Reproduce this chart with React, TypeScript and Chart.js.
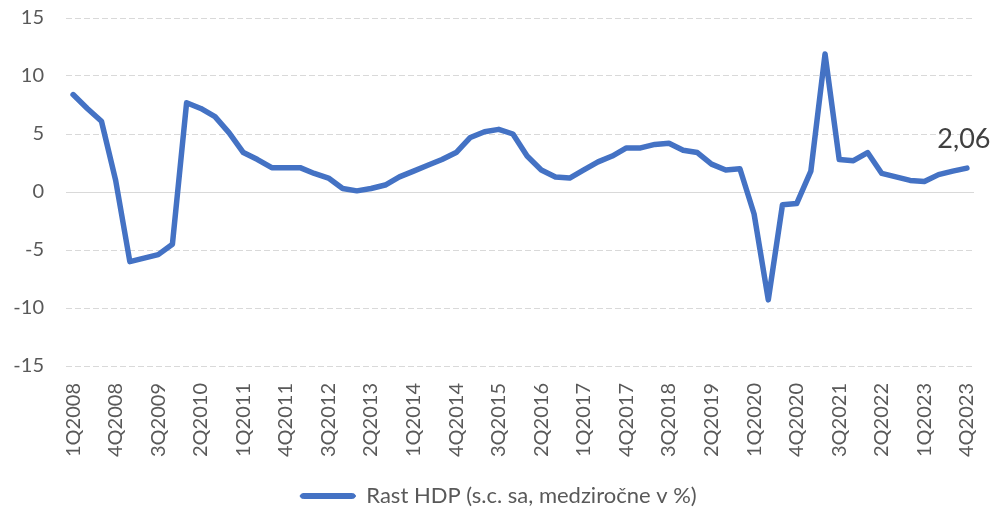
import React, { useEffect, useRef } from "react";
import { Chart, registerables } from "chart.js";

Chart.register(...registerables);

const categories: string[] = [
  "1Q2008", "2Q2008", "3Q2008", "4Q2008",
  "1Q2009", "2Q2009", "3Q2009", "4Q2009",
  "1Q2010", "2Q2010", "3Q2010", "4Q2010",
  "1Q2011", "2Q2011", "3Q2011", "4Q2011",
  "1Q2012", "2Q2012", "3Q2012", "4Q2012",
  "1Q2013", "2Q2013", "3Q2013", "4Q2013",
  "1Q2014", "2Q2014", "3Q2014", "4Q2014",
  "1Q2015", "2Q2015", "3Q2015", "4Q2015",
  "1Q2016", "2Q2016", "3Q2016", "4Q2016",
  "1Q2017", "2Q2017", "3Q2017", "4Q2017",
  "1Q2018", "2Q2018", "3Q2018", "4Q2018",
  "1Q2019", "2Q2019", "3Q2019", "4Q2019",
  "1Q2020", "2Q2020", "3Q2020", "4Q2020",
  "1Q2021", "2Q2021", "3Q2021", "4Q2021",
  "1Q2022", "2Q2022", "3Q2022", "4Q2022",
  "1Q2023", "2Q2023", "3Q2023", "4Q2023",
];

const gdpGrowth: number[] = [
  8.4, 7.2, 6.1, 1.0, -6.0, -5.7, -5.4, -4.5, 7.7, 7.2,
  6.5, 5.1, 3.4, 2.8, 2.1, 2.1, 2.1, 1.6, 1.2, 0.3,
  0.1, 0.3, 0.6, 1.3, 1.8, 2.3, 2.8, 3.4, 4.7, 5.2,
  5.4, 5.0, 3.1, 1.9, 1.3, 1.2, 1.9, 2.6, 3.1, 3.8,
  3.8, 4.1, 4.2, 3.6, 3.4, 2.4, 1.9, 2.0, -1.9, -9.3,
  -1.1, -1.0, 1.8, 11.9, 2.8, 2.7, 3.4, 1.6, 1.3, 1.0,
  0.9, 1.5, 1.8, 2.06,
];

const yTicks: number[] = [-15, -10, -5, 0, 5, 10, 15];
const seriesName = "Rast HDP (s.c. sa, medziročne v %)";
const lastValueLabel = "2,06";

const BLUE = "#4472C4";
const TICK_COLOR = "#595959";
const GRID_COLOR = "#d9d9d9";
const FONT = "Lato";

const zeroLinePlugin = {
  id: "zeroLine",
  beforeDatasetsDraw(chart: any) {
    const { ctx, chartArea, scales } = chart;
    const y = Math.round(scales.y.getPixelForValue(0)) + 0.5;
    ctx.save();
    ctx.strokeStyle = GRID_COLOR;
    ctx.lineWidth = 1;
    ctx.setLineDash([]);
    ctx.beginPath();
    ctx.moveTo(chartArea.left, y);
    ctx.lineTo(chartArea.right, y);
    ctx.stroke();
    ctx.restore();
  },
};

const lastLabelPlugin = {
  id: "lastLabel",
  afterDatasetsDraw(chart: any) {
    const meta = chart.getDatasetMeta(0);
    const pt = meta.data[meta.data.length - 1];
    if (!pt) return;
    const { ctx } = chart;
    ctx.save();
    ctx.font = `27px ${FONT}`;
    ctx.fillStyle = "#404040";
    ctx.textAlign = "center";
    ctx.textBaseline = "middle";
    ctx.fillText(lastValueLabel, pt.x - 3, pt.y - 29);
    ctx.restore();
  },
};

export default function App() {
  const canvasRef = useRef<HTMLCanvasElement | null>(null);

  useEffect(() => {
    const canvas = canvasRef.current;
    if (!canvas) return;
    const chart = new Chart(canvas, {
      type: "line",
      data: {
        labels: categories,
        datasets: [
          {
            label: seriesName,
            data: gdpGrowth,
            borderColor: BLUE,
            backgroundColor: BLUE,
            borderWidth: 5.5,
            borderJoinStyle: "round",
            borderCapStyle: "round",
            pointRadius: 0,
            pointHoverRadius: 0,
            tension: 0,
            fill: false,
          },
        ],
      },
      options: {
        animation: false,
        responsive: false,
        maintainAspectRatio: false,
        layout: { padding: { top: 18, right: 0, bottom: -4, left: 0 } },
        plugins: {
          tooltip: { enabled: false },
          legend: {
            display: true,
            position: "bottom",
            labels: {
              color: TICK_COLOR,
              font: { family: FONT, size: 22 },
              boxWidth: 55,
              boxHeight: 5,
              padding: 0,
              useBorderRadius: true,
              borderRadius: 3,
              generateLabels: (c: any) => {
                const items = Chart.defaults.plugins.legend.labels.generateLabels(c);
                return items.map((it: any) => ({
                  ...it,
                  fillStyle: BLUE,
                  strokeStyle: BLUE,
                  lineWidth: 1,
                  borderRadius: 3,
                  lineDash: [],
                }));
              },
            },
          },
        },
        scales: {
          x: {
            offset: true,
            grid: { display: false, drawTicks: false },
            border: { display: false },
            ticks: {
              autoSkip: false,
              minRotation: 90,
              maxRotation: 90,
              padding: 17,
              color: TICK_COLOR,
              font: { family: FONT, size: 20 },
              callback: (_v: any, i: number) => (i % 3 === 0 ? categories[i] : ""),
            },
            afterFit: (s: any) => {
              s.height = 119;
              s.paddingLeft = 0;
              s.paddingRight = 23;
            },
          },
          y: {
            min: -15,
            max: 15,
            afterBuildTicks: (s: any) => {
              s.ticks = yTicks.map((v) => ({ value: v }));
            },
            grid: { color: GRID_COLOR, lineWidth: 1, drawTicks: false },
            border: { display: false, dash: [6, 3] },
            ticks: {
              padding: 22,
              color: TICK_COLOR,
              font: { family: FONT, size: 20 },
              callback: (v: any) => String(v),
            },
            afterFit: (s: any) => {
              s.width = 66;
              s.paddingTop = 0;
              s.paddingBottom = 0;
            },
          },
        },
      },
      plugins: [zeroLinePlugin, lastLabelPlugin],
    });
    return () => chart.destroy();
  }, []);

  return (
    <div style={{ position: "absolute", left: 0, top: 0, width: 997, height: 513, background: "#ffffff" }}>
      <canvas ref={canvasRef} width={997} height={513} style={{ width: 997, height: 513 }} />
    </div>
  );
}
